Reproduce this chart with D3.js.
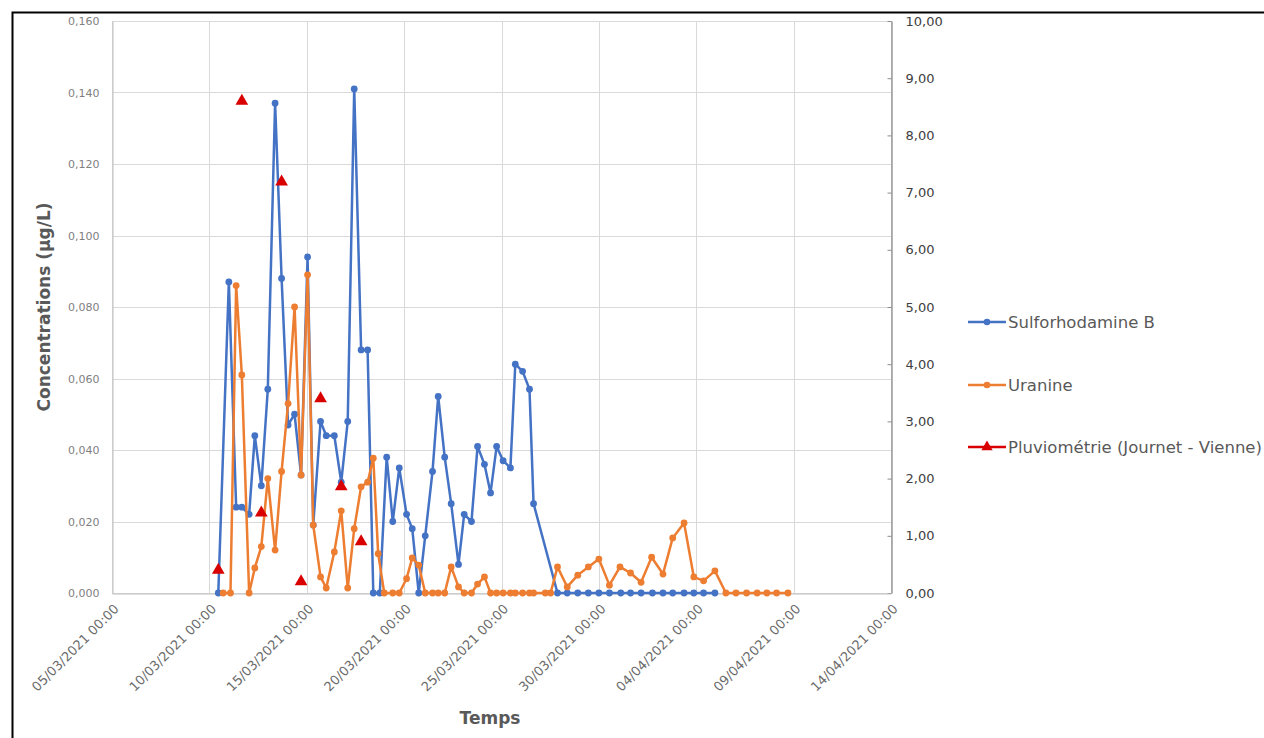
<!DOCTYPE html>
<html>
<head>
    <meta charset="utf-8">
    <script src="https://d3js.org/d3.v7.min.js"></script>
    <style>
        body { margin: 0; background: #fff; }
        svg { display: block; }
        text { font-family: "DejaVu Sans", sans-serif; }
    </style>
</head>
<body>
    <svg id="chart" width="1264" height="738"></svg>

    <script>
        // x axis ticks (every 5 days)
        const xTickLabels = ["05/03/2021 00:00", "10/03/2021 00:00", "15/03/2021 00:00", "20/03/2021 00:00",
            "25/03/2021 00:00", "30/03/2021 00:00", "04/04/2021 00:00", "09/04/2021 00:00", "14/04/2021 00:00"];
        const leftTicks = [0, 0.02, 0.04, 0.06, 0.08, 0.1, 0.12, 0.14, 0.16];
        const rightTicks = [0, 1, 2, 3, 4, 5, 6, 7, 8, 9, 10];

        // Sulforhodamine B (µg/L)
        const sbDates = ["10/03/2021 11:00", "11/03/2021 00:00", "11/03/2021 09:00", "11/03/2021 16:00", "12/03/2021 01:00",
            "12/03/2021 08:00", "12/03/2021 16:00", "13/03/2021 00:00", "13/03/2021 09:00", "13/03/2021 17:00",
            "14/03/2021 01:00", "14/03/2021 09:00", "14/03/2021 17:00", "15/03/2021 01:00", "15/03/2021 08:00",
            "15/03/2021 17:00", "16/03/2021 00:00", "16/03/2021 10:00", "16/03/2021 18:30", "17/03/2021 02:30",
            "17/03/2021 10:30", "17/03/2021 19:00", "18/03/2021 03:00", "18/03/2021 10:00", "18/03/2021 18:00",
            "19/03/2021 02:30", "19/03/2021 10:00", "19/03/2021 18:00", "20/03/2021 03:00", "20/03/2021 10:00",
            "20/03/2021 18:00", "21/03/2021 02:00", "21/03/2021 11:00", "21/03/2021 18:00", "22/03/2021 02:00",
            "22/03/2021 10:00", "22/03/2021 19:00", "23/03/2021 02:00", "23/03/2021 11:00", "23/03/2021 18:30",
            "24/03/2021 03:00", "24/03/2021 10:30", "24/03/2021 18:00", "25/03/2021 02:00", "25/03/2021 11:00",
            "25/03/2021 17:00", "26/03/2021 02:00", "26/03/2021 10:30", "26/03/2021 15:30", "27/03/2021 21:00",
            "28/03/2021 09:00", "28/03/2021 22:00", "29/03/2021 11:00", "30/03/2021 00:00", "30/03/2021 13:00",
            "31/03/2021 03:00", "31/03/2021 15:00", "01/04/2021 04:00", "01/04/2021 18:00", "02/04/2021 07:00",
            "02/04/2021 19:00", "03/04/2021 09:00", "03/04/2021 21:00", "04/04/2021 09:00", "04/04/2021 23:00"];
        const sbValues = [0, 0.087, 0.024, 0.024, 0.022,
            0.044, 0.030, 0.057, 0.137, 0.088,
            0.047, 0.050, 0.033, 0.094, 0.019,
            0.048, 0.044, 0.044, 0.031, 0.048,
            0.141, 0.068, 0.068, 0, 0,
            0.038, 0.020, 0.035, 0.022, 0.018,
            0, 0.016, 0.034, 0.055, 0.038,
            0.025, 0.008, 0.022, 0.020, 0.041,
            0.036, 0.028, 0.041, 0.037, 0.035,
            0.064, 0.062, 0.057, 0.025, 0,
            0, 0, 0, 0, 0,
            0, 0, 0, 0, 0,
            0, 0, 0, 0, 0];

        // Uranine (µg/L)
        const urDates = ["10/03/2021 17:00", "11/03/2021 02:00", "11/03/2021 09:00", "11/03/2021 16:00", "12/03/2021 01:00",
            "12/03/2021 08:00", "12/03/2021 16:00", "13/03/2021 00:00", "13/03/2021 09:00", "13/03/2021 17:00",
            "14/03/2021 01:00", "14/03/2021 09:00", "14/03/2021 17:00", "15/03/2021 01:00", "15/03/2021 08:00",
            "15/03/2021 17:00", "16/03/2021 00:00", "16/03/2021 10:00", "16/03/2021 18:30", "17/03/2021 02:30",
            "17/03/2021 10:30", "17/03/2021 19:00", "18/03/2021 03:00", "18/03/2021 10:00", "18/03/2021 16:00",
            "18/03/2021 23:30", "19/03/2021 10:00", "19/03/2021 18:00", "20/03/2021 03:00", "20/03/2021 10:00",
            "20/03/2021 18:00", "21/03/2021 02:00", "21/03/2021 11:00", "21/03/2021 18:00", "22/03/2021 02:00",
            "22/03/2021 10:00", "22/03/2021 19:00", "23/03/2021 02:00", "23/03/2021 11:00", "23/03/2021 18:30",
            "24/03/2021 03:00", "24/03/2021 10:30", "24/03/2021 18:00", "25/03/2021 02:00", "25/03/2021 11:00",
            "25/03/2021 17:00", "26/03/2021 02:00", "26/03/2021 10:30", "26/03/2021 15:30", "27/03/2021 06:00",
            "27/03/2021 12:30", "27/03/2021 21:00", "28/03/2021 09:00", "28/03/2021 22:00", "29/03/2021 11:00",
            "30/03/2021 00:00", "30/03/2021 13:00", "31/03/2021 02:00", "31/03/2021 15:00", "01/04/2021 04:00",
            "01/04/2021 17:00", "02/04/2021 07:00", "02/04/2021 19:00", "03/04/2021 09:00", "03/04/2021 21:00",
            "04/04/2021 09:00", "04/04/2021 23:00", "05/04/2021 12:30", "06/04/2021 01:00", "06/04/2021 14:00",
            "07/04/2021 03:00", "07/04/2021 15:00", "08/04/2021 03:00", "08/04/2021 17:00"];
        const urValues = [0, 0, 0.086, 0.061, 0,
            0.007, 0.013, 0.032, 0.012, 0.034,
            0.053, 0.080, 0.033, 0.089, 0.019,
            0.0045, 0.0014, 0.0115, 0.023, 0.0014,
            0.018, 0.0297, 0.031, 0.0377, 0.011,
            0, 0, 0, 0.004, 0.0098,
            0.0078, 0, 0, 0, 0,
            0.0073, 0.0017, 0, 0, 0.0025,
            0.0045, 0, 0, 0, 0,
            0, 0, 0, 0, 0,
            0, 0.0073, 0.0017, 0.005, 0.0073,
            0.0095, 0.0022, 0.0073, 0.0056, 0.003,
            0.010, 0.0053, 0.0154, 0.0196, 0.0045,
            0.0034, 0.0062, 0, 0, 0,
            0, 0, 0, 0];

        // Pluviométrie (right axis)
        const rainDates = ["10/03/2021 11:00", "11/03/2021 16:00", "12/03/2021 16:00", "13/03/2021 17:00",
            "14/03/2021 17:00", "15/03/2021 17:00", "16/03/2021 18:30", "17/03/2021 19:00"];
        const rainValues = [0.40, 8.60, 1.40, 7.19, 0.20, 3.40, 1.86, 0.90];

        const parse = d3.timeParse("%d/%m/%Y %H:%M");
        const sbData = sbDates.map((d, i) => ({ date: parse(d), value: sbValues[i] }));
        const urData = urDates.map((d, i) => ({ date: parse(d), value: urValues[i] }));
        const rainData = rainDates.map((d, i) => ({ date: parse(d), value: rainValues[i] }));
        const xTicks = xTickLabels.map(parse);

        const svg = d3.select("#chart");

        const plotLeft = 112, plotRight = 891, plotTop = 21, plotBottom = 593;
        const blue = "#4472C4", orange = "#ED7D31", red = "#D90000";

        const x = d3.scaleTime()
            .domain([xTicks[0], xTicks[xTicks.length - 1]])
            .range([plotLeft, plotRight]);
        const y = d3.scaleLinear().domain([0, 0.16]).range([plotBottom, plotTop]);
        const y2 = d3.scaleLinear().domain([0, 10]).range([plotBottom, plotTop]);

        // frame
        svg.append("path")
            .attr("d", "M12.5,738 L12.5,12.5 L1264,12.5")
            .attr("fill", "none").attr("stroke", "#000").attr("stroke-width", 2);

        // grid
        svg.append("g")
            .selectAll("line")
            .data(leftTicks)
            .join("line")
            .attr("x1", plotLeft).attr("x2", plotRight)
            .attr("y1", d => Math.round(y(d)) + 0.5).attr("y2", d => Math.round(y(d)) + 0.5)
            .attr("stroke", "#d9d9d9");
        svg.append("g")
            .selectAll("line")
            .data(xTicks)
            .join("line")
            .attr("x1", d => Math.round(x(d)) + 0.5).attr("x2", d => Math.round(x(d)) + 0.5)
            .attr("y1", plotTop).attr("y2", plotBottom)
            .attr("stroke", "#d9d9d9");

        // left axis
        const yAxis = d3.axisLeft(y)
            .tickValues(leftTicks)
            .tickSize(0)
            .tickPadding(13)
            .tickFormat(d => d3.format(".3f")(d).replace(".", ","));
        const gy = svg.append("g").attr("transform", `translate(${plotLeft + 0.5},0)`).call(yAxis);
        gy.select(".domain").attr("stroke", "#bfbfbf");
        gy.selectAll("text").attr("fill", "#7f7f7f").attr("font-size", "11px");

        // right axis
        const y2Axis = d3.axisRight(y2)
            .tickValues(rightTicks)
            .tickSize(0)
            .tickPadding(14)
            .tickFormat(d => d3.format(".2f")(d).replace(".", ","));
        const gy2 = svg.append("g").attr("transform", `translate(${plotRight + 0.5},0)`).call(y2Axis);
        gy2.select(".domain").attr("stroke", "#8c8c8c").attr("stroke-width", 1.3);
        gy2.selectAll("text").attr("fill", "#404040").attr("font-size", "13px");
        gy2.selectAll(".tick").append("line")
            .attr("x1", -4).attr("x2", 0)
            .attr("stroke", "#8c8c8c");

        // bottom axis
        const xAxis = d3.axisBottom(x)
            .tickValues(xTicks)
            .tickSize(0)
            .tickFormat((d, i) => xTickLabels[i]);
        const gx = svg.append("g").attr("transform", `translate(0,${plotBottom + 0.5})`).call(xAxis);
        gx.select(".domain").attr("stroke", "#bfbfbf");
        gx.selectAll("text")
            .attr("fill", "#6a6a6a")
            .attr("font-size", "13px")
            .attr("text-anchor", "end")
            .attr("dy", "0.35em")
            .attr("transform", "translate(4,13) rotate(-45)")
            .attr("y", 0);

        // axis titles
        svg.append("text")
            .attr("transform", `translate(50,${(plotTop + plotBottom) / 2}) rotate(-90)`)
            .attr("text-anchor", "middle")
            .attr("font-size", "17px")
            .attr("font-weight", "bold")
            .attr("fill", "#595959")
            .text("Concentrations  (µg/L)");
        svg.append("text")
            .attr("x", 490).attr("y", 724)
            .attr("text-anchor", "middle")
            .attr("font-size", "17px")
            .attr("font-weight", "bold")
            .attr("fill", "#595959")
            .text("Temps");

        // series
        const line = d3.line().x(d => x(d.date)).y(d => y(d.value));

        function drawSeries(data, color) {
            svg.append("path")
                .datum(data)
                .attr("d", line)
                .attr("fill", "none")
                .attr("stroke", color)
                .attr("stroke-width", 2.5)
                .attr("stroke-linejoin", "round");
            svg.append("g")
                .selectAll("circle")
                .data(data)
                .join("circle")
                .attr("cx", d => x(d.date))
                .attr("cy", d => y(d.value))
                .attr("r", 3.4)
                .attr("fill", color);
        }
        drawSeries(sbData, blue);
        drawSeries(urData, orange);

        const tri = d3.symbol().type(d3.symbolTriangle).size(70);
        svg.append("g")
            .selectAll("path")
            .data(rainData)
            .join("path")
            .attr("d", tri)
            .attr("transform", d => `translate(${x(d.date)},${y2(d.value)})`)
            .attr("fill", red);

        // legend
        const legendItems = [
            { name: "Sulforhodamine B", color: blue, y: 322, symbol: "circle" },
            { name: "Uranine", color: orange, y: 385, symbol: "circle" },
            { name: "Pluviométrie (Journet - Vienne)", color: red, y: 447, symbol: "triangle" }
        ];
        const lg = svg.append("g")
            .selectAll("g")
            .data(legendItems)
            .join("g")
            .attr("transform", d => `translate(0,${d.y})`);
        lg.append("line")
            .attr("x1", 968).attr("x2", 1006)
            .attr("stroke", d => d.color)
            .attr("stroke-width", 2.5);
        lg.filter(d => d.symbol === "circle").append("circle")
            .attr("cx", 987).attr("r", 3.3)
            .attr("fill", d => d.color);
        lg.filter(d => d.symbol === "triangle").append("path")
            .attr("d", d3.symbol().type(d3.symbolTriangle).size(55))
            .attr("transform", "translate(987,0)")
            .attr("fill", d => d.color);
        lg.append("text")
            .attr("x", 1008)
            .attr("dy", "0.35em")
            .attr("font-size", "16.5px")
            .attr("fill", "#595959")
            .text(d => d.name);
    </script>
</body>
</html>
